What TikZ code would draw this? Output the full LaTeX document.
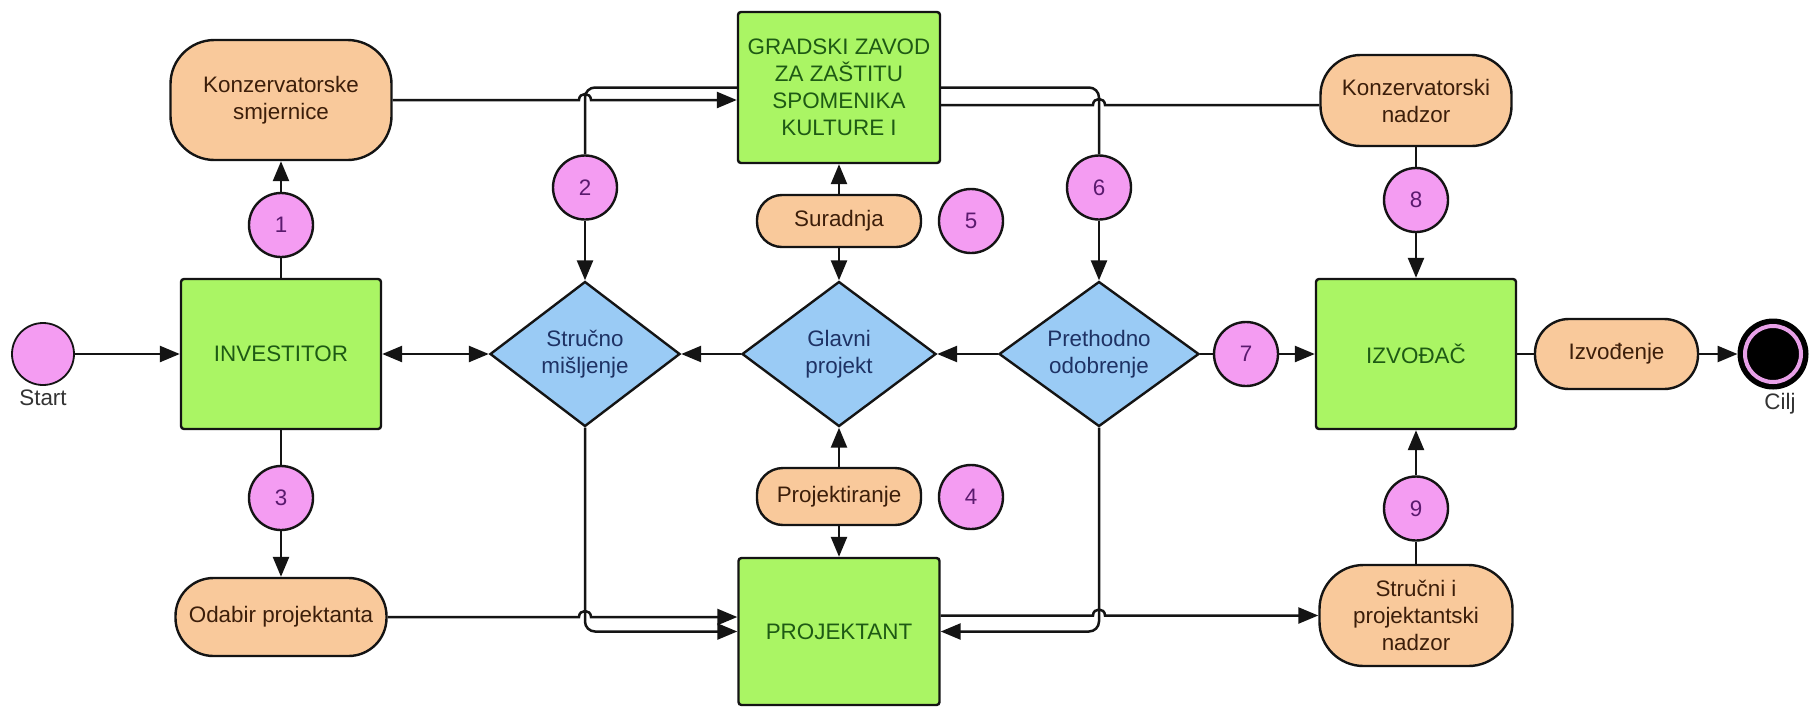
\documentclass[tikz,border=0pt]{standalone}
\usepackage{fontspec}
\setmainfont{Liberation Sans}
\usetikzlibrary{arrows.meta,shapes.geometric,calc}
\definecolor{gfill}{HTML}{AAF564}
\definecolor{gtext}{HTML}{1E5A14}
\definecolor{ofill}{HTML}{F9C99B}
\definecolor{otext}{HTML}{3C1E0A}
\definecolor{bfill}{HTML}{9ACBF5}
\definecolor{btext}{HTML}{1E3264}
\definecolor{pfill}{HTML}{F49CF2}
\definecolor{ptext}{HTML}{5A1A6E}
\definecolor{linec}{HTML}{141414}
\definecolor{ring}{HTML}{E8A0E8}
\newcommand\dfont{\fontsize{11.2pt}{13.5pt}\selectfont}
\tikzset{
  base/.style={draw=linec, line width=1.2pt, font=\dfont, align=center, inner sep=0pt},
  gbox/.style={base, rectangle, rounded corners=1.5pt, fill=gfill, text=gtext, minimum width=100pt, minimum height=75pt},
  obox/.style={base, rectangle, rounded corners=#1, fill=ofill, text=otext},
  dia/.style={base, diamond, fill=bfill, text=btext, aspect=1.31, minimum height=72.5pt},
  num/.style={base, circle, fill=pfill, text=ptext, minimum size=32pt},
  lbl/.style={font=\dfont, text=black!80, inner sep=0pt},
  tip/.tip={Triangle[length=10pt,width=8pt]},
  conn/.style={line width=1.25pt, draw=linec},
  arr/.style={conn, -tip},
}
\begin{document}
\begin{tikzpicture}[x=0.5pt,y=-0.5pt]
\fill[white] (0,0) rectangle (1816,708);
\useasboundingbox (0,0) rectangle (1816,708);

% nodes
\node[base, circle, fill=pfill, minimum size=31pt, line width=0.9pt] (start) at (43,354) {};
\node[lbl] (startlbl) at (43,398) {Start};
\node[gbox] (inv) at (281,354) {INVESTITOR};
\node[obox=22pt, minimum width=110.5pt, minimum height=60pt] (ks) at (281,100) {Konzervatorske\\smjernice};
\node[num] (c1) at (281,225) {1};
\node[num] (c3) at (281,498) {3};
\node[obox=19pt, minimum width=105.5pt, minimum height=39pt] (op) at (281,617) {Odabir projektanta};

\node[dia, minimum width=95pt] (sm) at (585,354) {Stručno\\mišljenje};
\node[num] (c2) at (585,187.5) {2};

\node[gbox, minimum width=101pt, minimum height=75.5pt] (gz) at (839,87.5) {GRADSKI ZAVOD\\ZA ZAŠTITU\\SPOMENIKA\\KULTURE I};
\node[obox=12.5pt, minimum width=82pt, minimum height=26pt] (sur) at (839,221) {Suradnja};
\node[num] (c5) at (971,221) {5};
\node[dia, minimum width=97pt] (gp) at (839,354) {Glavni\\projekt};
\node[obox=13pt, minimum width=82pt, minimum height=28.5pt] (proj) at (839,496.5) {Projektiranje};
\node[num] (c4) at (971,497) {4};
\node[gbox, minimum width=100.5pt, minimum height=73.5pt] (pt) at (839,631.5) {PROJEKTANT};

\node[dia, minimum width=100pt] (po) at (1099,354) {Prethodno\\odobrenje};
\node[num] (c6) at (1099,187.5) {6};
\node[num] (c7) at (1246,354) {7};

\node[obox=20pt, minimum width=95.5pt, minimum height=45.5pt] (kn) at (1416,100.5) {Konzervatorski\\nadzor};
\node[num] (c8) at (1416,200) {8};
\node[gbox] (iz) at (1416,354) {IZVOĐAČ};
\node[num] (c9) at (1416,508.5) {9};
\node[obox=22pt, minimum width=96.5pt, minimum height=50.5pt] (spn) at (1416,615.5) {Stručni i\\projektantski\\nadzor};
\node[obox=17pt, minimum width=81.5pt, minimum height=35pt] (izv) at (1616.5,354) {Izvođenje};
\node[base, circle, fill=black, draw=black, line width=1.5pt, minimum size=34pt] (cilj) at (1773,354) {};
\draw[ring, line width=2pt] (cilj.center) circle[radius=14pt];
\node[lbl] (ciljlbl) at (1780,404) {Cilj};

% connectors
\draw[arr] (start) -- (inv);
\draw[conn] (inv) -- (c1);
\draw[arr] (c1) -- (ks);
\draw[conn] (inv) -- (c3);
\draw[arr] (c3) -- (op);
\draw[conn, tip-tip] (inv) -- (sm);
\draw[arr] (gp) -- (sm);
\draw[arr] (po) -- (gp);
\draw[conn] (po) -- (c7);
\draw[arr] (c7) -- (iz);
\draw[conn] (iz) -- (izv);
\draw[arr] (izv) -- (cilj);
\draw[arr] (sur) -- (gz);
\draw[arr] (sur) -- (gp);
\draw[arr] (proj) -- (gp);
\draw[arr] (proj) -- (pt);
\draw[conn] (kn) -- (c8);
\draw[arr] (c8) -- (iz);
\draw[conn] (spn) -- (c9);
\draw[arr] (c9) -- (iz);

% top routing
\draw[conn, rounded corners=5pt] (gz.west) -| (c2);
\draw[arr] (c2) -- (sm);
\draw[arr] (ks.east) -- (579,100) .. controls (579,92) and (591,92) .. (591,100) -- (gz.west |- ks.east);
\draw[conn, rounded corners=5pt] (gz.east) -| (c6);
\draw[arr] (c6) -- (po);
\draw[conn] ($(gz.east)+(0,17.5)$) -- (1093,105) .. controls (1093,97) and (1105,97) .. (1105,105) -- (kn.west |- 0,105);

% bottom routing
\draw[arr] (op.east) -- (579,617) .. controls (579,609) and (591,609) .. (591,617) -- (pt.west |- op.east);
\draw[arr, rounded corners=5pt] (sm.south) |- (pt.west);
\draw[arr, rounded corners=5pt] (po.south) |- (pt.east);
\draw[arr] (pt.east |- spn.west) -- (1093,615.5) .. controls (1093,607.5) and (1105,607.5) .. (1105,615.5) -- (spn.west);
\end{tikzpicture}
\end{document}
